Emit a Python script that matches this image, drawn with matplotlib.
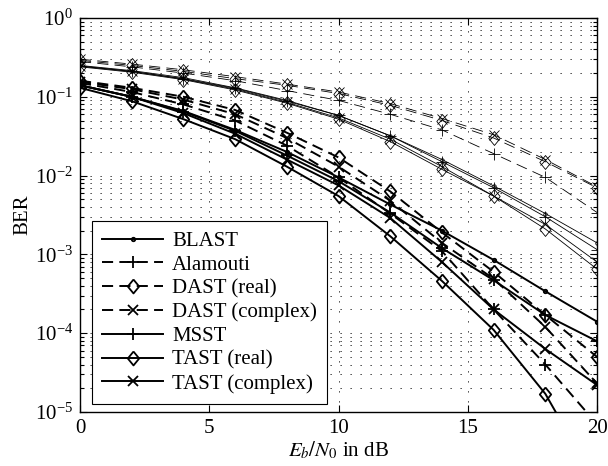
import numpy as np
import matplotlib.pyplot as plt

plt.rcParams['font.family'] = 'Liberation Serif'
plt.rcParams['mathtext.fontset'] = 'stix'
plt.rcParams['font.size'] = 15
plt.rcParams['lines.scale_dashes'] = False

snr_db = [0, 2, 4, 6, 8, 10, 12, 14, 16, 18, 20]

# single receive antenna (thin curves)
blast_1rx = [0.25, 0.215, 0.175, 0.13, 0.09, 0.058, 0.032, 0.016, 0.0074, 0.0033, 0.0014]
alamouti_1rx = [0.28, 0.24, 0.2, 0.16, 0.12, 0.09, 0.06, 0.038, 0.019, 0.0095, 0.0034]
dast_real_1rx = [0.29, 0.25, 0.21, 0.17, 0.14, 0.11, 0.078, 0.05, 0.03, 0.015, 0.007]
dast_cplx_1rx = [0.30, 0.26, 0.22, 0.18, 0.145, 0.115, 0.082, 0.053, 0.033, 0.016, 0.0072]
msst_1rx = [0.245, 0.21, 0.17, 0.128, 0.088, 0.058, 0.032, 0.015, 0.007, 0.003, 0.00115]
tast_real_1rx = [0.24, 0.205, 0.165, 0.122, 0.083, 0.052, 0.027, 0.012, 0.0055, 0.0021, 0.00065]
tast_cplx_1rx = [0.245, 0.21, 0.168, 0.125, 0.085, 0.054, 0.029, 0.013, 0.0055, 0.0024, 0.0008]

# two receive antennas (thick curves)
blast_2rx = [0.14, 0.10, 0.066, 0.038, 0.02, 0.0095, 0.0043, 0.002, 8.5e-4, 3.4e-4, 1.4e-4]
alamouti_2rx = [0.15, 0.115, 0.08, 0.05, 0.024, 0.0095, 0.0033, 0.0011, 2.0e-4, 4.0e-5, 7e-6]
dast_real_2rx = [0.16, 0.13, 0.10, 0.068, 0.035, 0.017, 0.0063, 0.0019, 6.0e-4, 1.7e-4, 5.0e-5]
dast_cplx_2rx = [0.155, 0.125, 0.092, 0.06, 0.03, 0.013, 0.0048, 0.0014, 4.9e-4, 1.2e-4, 2.3e-5]
msst_2rx = [0.14, 0.10, 0.065, 0.037, 0.018, 0.0085, 0.0034, 0.0012, 4.7e-4, 1.7e-4, 7.9e-5]
tast_real_2rx = [0.13, 0.088, 0.052, 0.029, 0.013, 0.0055, 0.0017, 4.6e-4, 1.1e-4, 1.7e-5, 1.2e-6]
tast_cplx_2rx = [0.14, 0.10, 0.062, 0.034, 0.016, 0.0075, 0.0029, 8.0e-4, 2.0e-4, 6.3e-5, 2.2e-5]

labels = ['BLAST', 'Alamouti', 'DAST (real)', 'DAST (complex)',
          'MSST', 'TAST (real)', 'TAST (complex)']

diamond = [(0, 1), (0.82, 0), (0, -1), (-0.82, 0), (0, 1)]
markers = ['.', '+', diamond, 'x', '+', diamond, 'x']
msizes = [5, 9, 10, 7, 9, 10, 7]
dashed = [False, True, True, True, False, False, False]

curves_1rx = [blast_1rx, alamouti_1rx, dast_real_1rx, dast_cplx_1rx,
              msst_1rx, tast_real_1rx, tast_cplx_1rx]
curves_2rx = [blast_2rx, alamouti_2rx, dast_real_2rx, dast_cplx_2rx,
              msst_2rx, tast_real_2rx, tast_cplx_2rx]

fig = plt.figure(figsize=(6.08, 4.66), dpi=100)
ax = fig.add_axes([0.1316, 0.1159, 0.8504, 0.8455])

for ys, mk, ms, ds in zip(curves_1rx, markers, msizes, dashed):
    ln, = ax.semilogy(snr_db, ys, color='k', lw=0.6, marker=mk, ms=ms,
                      mew=0.6, fillstyle='none')
    if ds:
        ln.set_dashes((8, 4.5))

for ys, mk, ms, ds, lab in zip(curves_2rx, markers, msizes, dashed, labels):
    ln, = ax.semilogy(snr_db, ys, color='k', lw=1.4, marker=mk, ms=ms,
                      mew=1.3, fillstyle='none', label=lab)
    if ds:
        ln.set_dashes((8, 4.5))

ax.set_xlim(0, 20)
ax.set_ylim(1e-5, 1)
ax.set_xticks([0, 5, 10, 15, 20])
ax.set_xlabel('$E_b/N_0$ in dB', labelpad=1)
ax.set_ylabel('BER', labelpad=2)

ax.grid(True, which='major', color='k', lw=0.6, linestyle=(0, (0.9, 6.3)))
ax.grid(True, which='minor', axis='y', color='k', lw=0.6, linestyle=(0, (0.9, 6.3)))
ax.tick_params(which='both', direction='in', top=True, right=True, width=0.8)
ax.tick_params(which='major', length=5, pad=5)
ax.tick_params(which='minor', length=3)
for sp in ax.spines.values():
    sp.set_linewidth(1.0)

leg = ax.legend(loc='lower left', bbox_to_anchor=(0.023, 0.02), borderaxespad=0,
                fancybox=False, framealpha=1, edgecolor='k', numpoints=1,
                handlelength=2.9, handletextpad=0.45, labelspacing=0.2,
                borderpad=0.5)
leg.get_frame().set_linewidth(0.8)

fig.savefig('out.png', dpi=100)
